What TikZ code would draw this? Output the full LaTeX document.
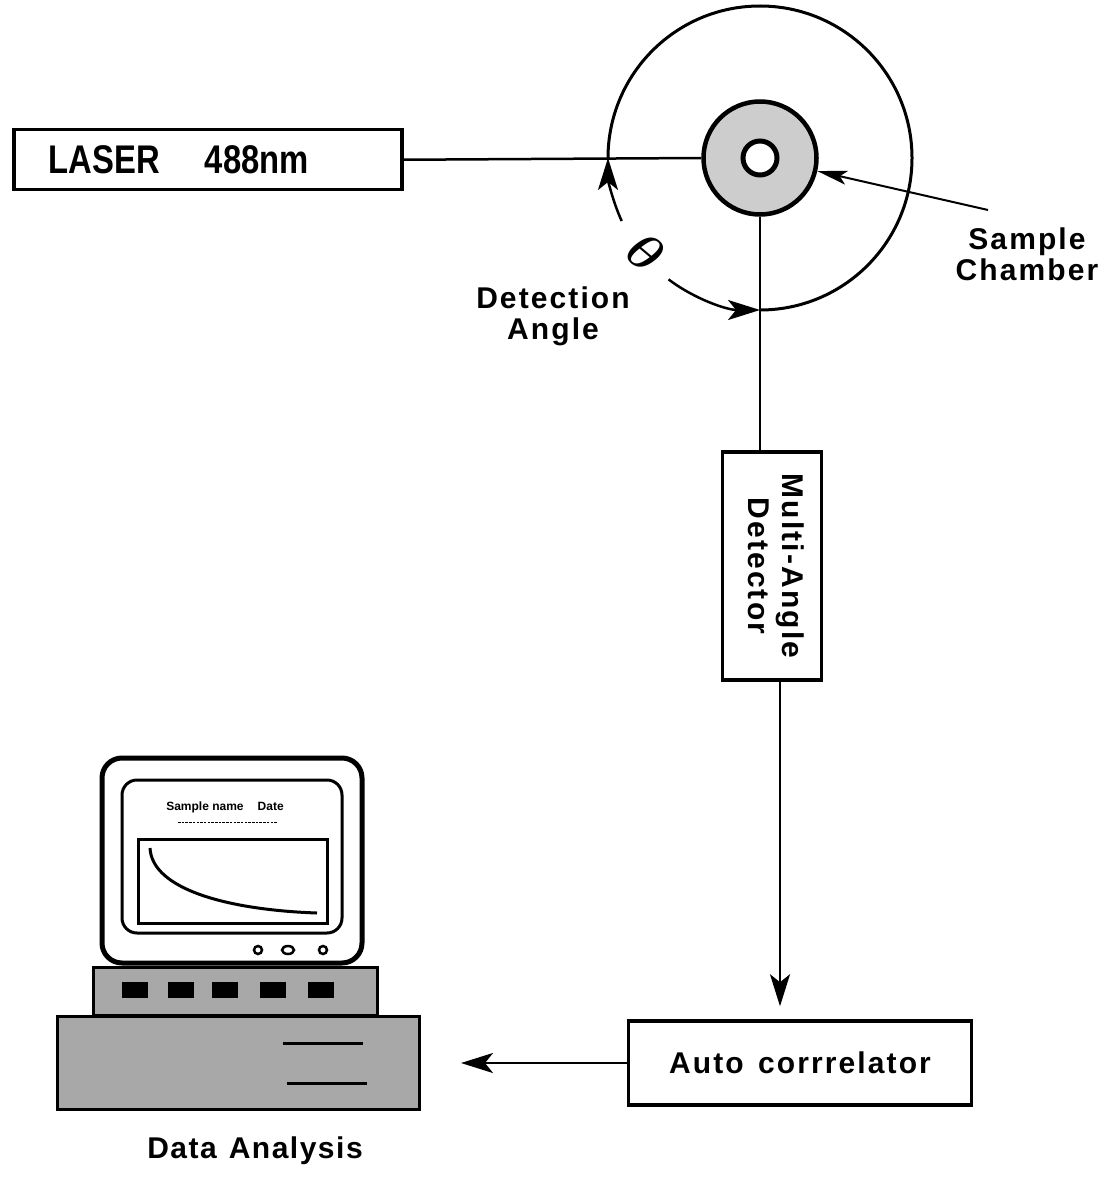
\documentclass[tikz,border=0pt]{standalone}
\usepackage{graphicx}
\usepackage{fontspec}
\setmainfont{Liberation Sans}
\newfontfamily\greekfont{Liberation Serif}
\usetikzlibrary{arrows.meta}
\definecolor{dotG}{RGB}{168,168,168}
\definecolor{dotL}{RGB}{205,205,205}

\begin{document}
\begin{tikzpicture}[x=1pt,y=-1pt,
  box/.style={draw,line width=3.5pt,inner sep=0pt},
  wire/.style={line width=2.5pt},
  arr/.style={wire,-{Stealth[length=32pt,width=20pt,inset=8pt]}},
  lbl/.style={font=\fontsize{30}{31}\selectfont\bfseries\addfontfeature{LetterSpace=7},align=center}]
\useasboundingbox (0,0) rectangle (1108,1177);
\coordinate (C) at (760,158);
% laser and sample cell
\node (laser) [box,minimum height=60pt,text width=318pt,inner xsep=35pt,align=left,anchor=north west,
  font=\fontsize{40}{40}\selectfont\bfseries] at (12,128) {\scalebox{0.82}[1]{LASER}\hspace{45pt}\scalebox{0.82}[1]{488nm}};
\draw[line width=3pt] (C) ++(90:152) arc[start angle=90,end angle=-180,radius=152];
\node (disk) [circle,draw,line width=4.5pt,fill=dotL,minimum size=113pt,inner sep=0pt] at (C) {};
\node (cell) [circle,draw,line width=5pt,fill=white,minimum size=34pt,inner sep=0pt] at (C) {};
\draw[wire] (laser.east) -- (disk.west);
\draw[arr] (C) ++(155.5:152) arc[start angle=155.5,end angle=180,radius=152];
\draw[arr] (C) ++(127:152) arc[start angle=127,end angle=90,radius=152];
\node (theta) [font=\fontsize{50}{50}\selectfont\greekfont\itshape,rotate=-40] at (645,252) {\scalebox{1.25}[1]{θ}};
\node (detlbl) [lbl] at (553,316) {Detection\\Angle};
\coordinate (scptr) at (988,210);
\draw[line width=2pt,-{Stealth[length=30pt,width=14pt,inset=7pt]}] (scptr) -- (disk);
\node (sclbl) [lbl] at (1027,254) {Sample\\Chamber};
% detector and correlator
\node (det) [box,minimum width=99pt,minimum height=228pt,lbl] at (772,566)
  {\rotatebox{-90}{\begin{tabular}{@{}c@{}}Multi-Angle\\[3pt]Detector\end{tabular}}};
\draw[wire] (disk.south) -- (disk.south |- det.north);
\node (auto) [box,minimum width=343pt,minimum height=84pt,lbl] at (800,1063) {Auto\hspace{4pt} corrrelator};
\draw[arr,shorten >=13pt] ([xshift=8pt]det.south) -- ([xshift=8pt]det.south |- auto.north);
% computer
\draw[line width=5pt,rounded corners=20pt] (102,758) rectangle (362,963);
\draw[line width=3pt,rounded corners=15pt] (122,780) rectangle (342,933);
\node (scrtxt) [font=\fontsize{12}{12}\selectfont\bfseries] at (225,807) {Sample name\hspace{14pt}Date};
\draw[line width=0.9pt,dash pattern=on 2.5pt off 1.2pt] (178,822) -- (277,822);
\draw[line width=3pt] (138,839) rectangle (327,923);
\draw[line width=3pt] (150,848) .. controls (152,890) and (230,910) .. (317,913);
\foreach \kx/\kr in {258/4,288/6,323/4} \draw[line width=2.5pt] (\kx,950) ellipse[x radius=\kr,y radius=4];
\draw[line width=3pt,fill=dotG] (93,967) rectangle (377,1015);
\foreach \kx in {122,168,212,260,308} \fill (\kx,982) rectangle ++(26,16);
\node (base) [draw,line width=3pt,fill=dotG,minimum width=362pt,minimum height=93pt,anchor=north west,inner sep=0pt] at (56,1015) {};
\draw[line width=3pt] (283,1043) -- ++(80,0) (287,1083) -- ++(80,0);
\draw[arr,shorten >=40pt] (auto.west) -- (auto.west -| base.east);
\node (datalbl) [lbl,font=\fontsize{30}{31}\selectfont\bfseries\addfontfeature{LetterSpace=5}] at (255,1151) {Data\hspace{12pt}Analysis};
\end{tikzpicture}
\end{document}
